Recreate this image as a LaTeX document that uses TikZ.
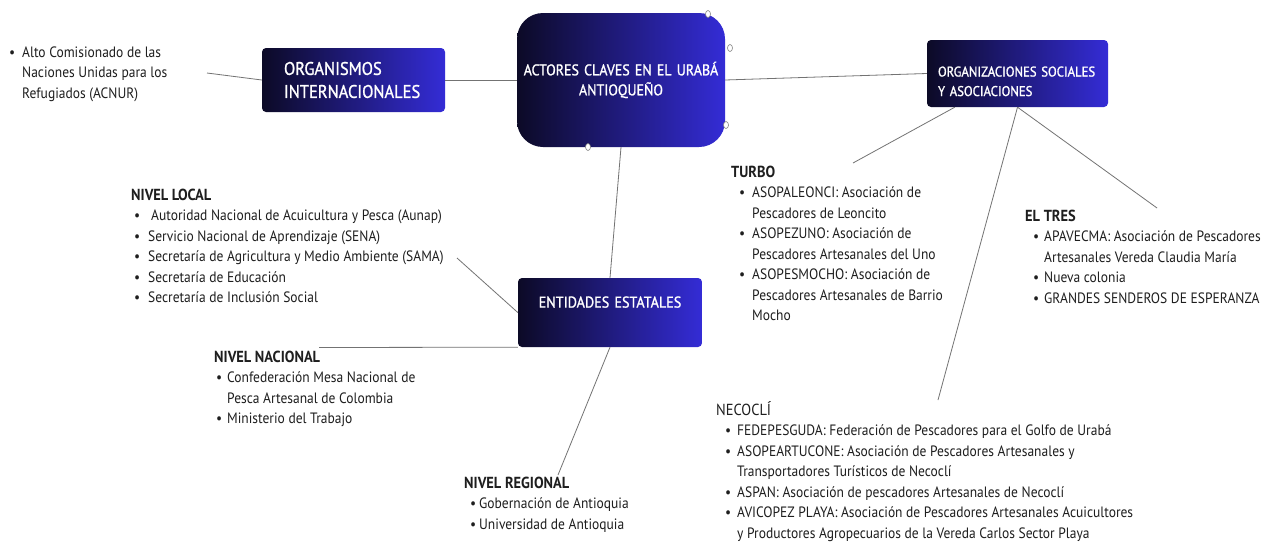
\documentclass[tikz,border=0pt]{standalone}
\usepackage{fontspec}
\setmainfont{PT Sans}[FakeStretch=0.9]
\newfontfamily\cajafont{PT Sans}[FakeStretch=0.9,FakeBold=1.2]
\usetikzlibrary{positioning}
\definecolor{navyleft}{RGB}{12,10,38}
\definecolor{blueright}{RGB}{52,44,214}
\definecolor{linegray}{RGB}{115,115,115}
\definecolor{textdark}{RGB}{30,30,30}
\newcommand{\bul}{\textbullet}
\newcommand{\tit}[1]{\multicolumn{2}{@{}l@{}}{\fontsize{16}{20.5}\selectfont #1}\\}
\newenvironment{bloque}[2]{\begin{tabular}[t]{@{\hspace{#1pt}}p{#2pt}@{}l@{}}}{\end{tabular}}

\begin{document}
\begin{tikzpicture}[x=1pt,y=-1pt,
  caja/.style={rounded corners=4pt,left color=navyleft,right color=blueright,text=white,inner sep=0pt},
  lista/.style={anchor=base west,inner sep=0pt,text=textdark,font=\fontsize{15}{20.5}\selectfont},
  linea/.style={draw=linegray,line width=0.8pt},
  asa/.style={draw=gray,fill=white,line width=0.6pt}]
 \fill[white] (0,0) rectangle (1279,541);
 \useasboundingbox (0,0) rectangle (1279,541);

 \node[caja,rounded corners=26pt,minimum width=208pt,minimum height=134pt,text width=200pt,align=center,font=\cajafont\fontsize{15.5}{20}\selectfont] (actores) at (621,80) {ACTORES CLAVES EN EL URABÁ\\ANTIOQUEÑO};
 \node[caja,minimum width=183pt,minimum height=64pt,text width=139pt,align=left,font=\cajafont\fontsize{18.3}{23}\selectfont] (orgint) at (353.5,80) {ORGANISMOS\\INTERNACIONALES};
 \node[caja,minimum width=181pt,minimum height=67pt,text width=159pt,align=left,text depth=4pt,font=\cajafont\fontsize{14.1}{19.5}\selectfont] (orgsoc) at (1017.5,73.5) {ORGANIZACIONES SOCIALES\\Y ASOCIACIONES};
 \node[caja,minimum width=184pt,minimum height=69pt,text width=170pt,align=center,text depth=21pt,font=\cajafont\fontsize{15.7}{20}\selectfont] (entidades) at (610,312.5) {ENTIDADES ESTATALES};

 \node[lista] (acnur) at (9,57) {\begin{bloque}{0}{13}
 \bul & Alto Comisionado de las\\
  & Naciones Unidas para los\\
  & Refugiados (ACNUR)
 \end{bloque}};
 \node[lista] (local) at (131,200) {\begin{bloque}{3}{14}
 \tit{\textbf{NIVEL LOCAL}}
 \bul & \hspace{3pt}Autoridad Nacional de Acuicultura y Pesca (Aunap)\\
 \bul & Servicio Nacional de Aprendizaje (SENA)\\
 \bul & Secretaría de Agricultura y Medio Ambiente (SAMA)\\
 \bul & Secretaría de Educación\\
 \bul & Secretaría de Inclusión Social
 \end{bloque}};
 \node[lista] (nacional) at (214,362) {\begin{bloque}{2}{11}
 \tit{\textbf{NIVEL NACIONAL}}
 \bul & Confederación Mesa Nacional de\\
  & Pesca Artesanal de Colombia\\
 \bul & Ministerio del Trabajo
 \end{bloque}};
 \node[lista] (regional) at (464,488) {\begin{bloque}{6}{9}
 \tit{\textbf{NIVEL REGIONAL}}
 \bul & Gobernación de Antioquia\\
 \bul & Universidad de Antioquia
 \end{bloque}};
 \node[lista] (turbo) at (731,177) {\begin{bloque}{8}{13}
 \tit{\textbf{TURBO}}
 \bul & ASOPALEONCI: Asociación de\\
  & Pescadores de Leoncito\\
 \bul & ASOPEZUNO: Asociación de\\
  & Pescadores Artesanales del Uno\\
 \bul & ASOPESMOCHO: Asociación de\\
  & Pescadores Artesanales de Barrio\\
  & Mocho
 \end{bloque}};
 \node[lista] (eltres) at (1025,221) {\begin{bloque}{8}{11}
 \tit{\textbf{EL TRES}}
 \bul & APAVECMA: Asociación de Pescadores\\
  & Artesanales Vereda Claudia María\\
 \bul & Nueva colonia\\
 \bul & GRANDES SENDEROS DE ESPERANZA
 \end{bloque}};
 \node[lista] (necocli) at (716,415) {\begin{bloque}{9}{12}
 \tit{NECOCLÍ}
 \bul & FEDEPESGUDA: Federación de Pescadores para el Golfo de Urabá\\
 \bul & ASOPEARTUCONE: Asociación de Pescadores Artesanales y\\
  & Transportadores Turísticos de Necoclí\\
 \bul & ASPAN: Asociación de pescadores Artesanales de Necoclí\\
 \bul & AVICOPEZ PLAYA: Asociación de Pescadores Artesanales Acuicultores\\
  & y Productores Agropecuarios de la Vereda Carlos Sector Playa
 \end{bloque}};

 \coordinate (acnurfin) at (207,73);
 \coordinate (turbofin) at (853,163);
 \coordinate (eltresfin) at (1157,208);
 \coordinate (necoclifin) at (938,400);
 \coordinate (localfin) at (457,258);
 \coordinate (nacionalfin) at (319,347.5);
 \coordinate (regionalfin) at (558,475);

 \draw[linea] (acnurfin) -- (orgint.west);
 \draw[linea] (orgint.east) -- (actores.west);
 \draw[linea] (actores.east) -- (orgsoc.west);
 \draw[linea] ([xshift=28pt]orgsoc.south west) -- (turbofin);
 \draw[linea] (orgsoc.south) -- (necoclifin);
 \draw[linea] (orgsoc.south) -- (eltresfin);
 \draw[linea] (actores.south) -- (entidades.north);
 \draw[linea] (entidades.west) -- (localfin);
 \draw[linea] (entidades.south west) -- (nacionalfin);
 \draw[linea] (entidades.south) -- (regionalfin);

 \draw[asa] (708,14) ellipse (2.5 and 3.5);
 \draw[asa] (730,48) ellipse (2.5 and 3.5);
 \draw[asa] (726,125) ellipse (2.5 and 3.5);
 \draw[asa] (588,147) ellipse (2.5 and 3.5);
\end{tikzpicture}
\end{document}
